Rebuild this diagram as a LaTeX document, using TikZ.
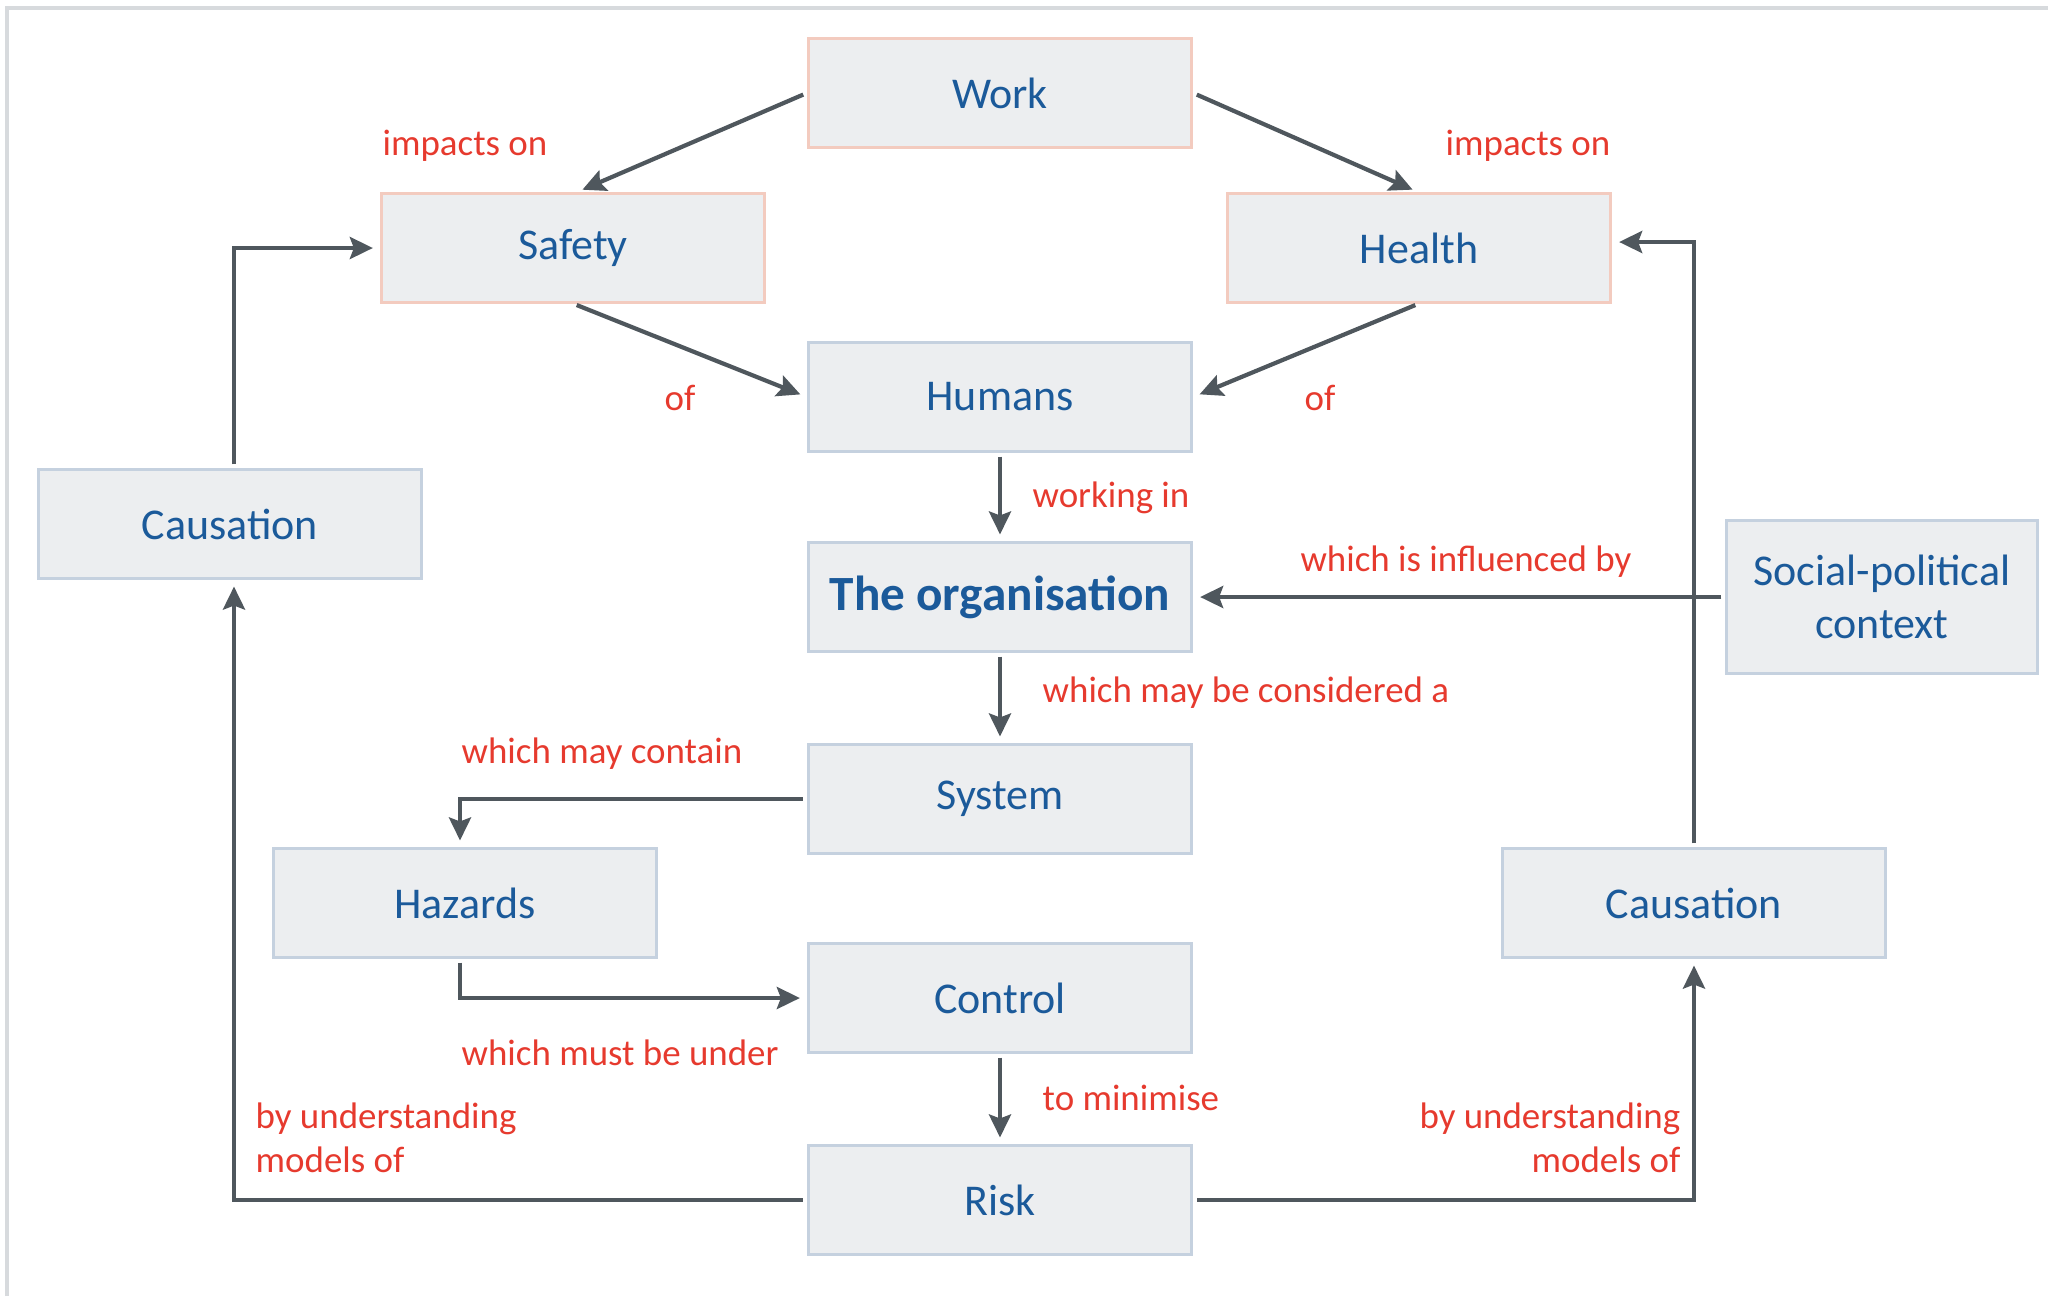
\documentclass[tikz,border=0pt]{standalone}
\usepackage{fontspec}
\setmainfont{Carlito}
\usetikzlibrary{arrows.meta}
\definecolor{boxfill}{HTML}{ECEEF0}
\definecolor{boxline}{HTML}{C5D1DF}
\definecolor{pinkline}{HTML}{F3CBBF}
\definecolor{boxtext}{HTML}{1B5A9A}
\definecolor{lbltext}{HTML}{E63A2E}
\definecolor{arrowgrey}{HTML}{4F575D}
\definecolor{framegrey}{HTML}{D7DADD}

\begin{document}
\begin{tikzpicture}[x=0.01cm,y=-0.01cm,
	box/.style={draw=boxline,line width=0.03cm,fill=boxfill,minimum width=3.83cm,minimum height=1.08cm,
		font=\fontsize{12.5}{15}\selectfont,text=boxtext},
	topbox/.style={box,draw=pinkline},
	lbl/.style={text=lbltext,font=\fontsize{10.5}{12.4}\selectfont,inner sep=0pt},
	arr/.style={draw=arrowgrey,line width=0.042cm,-{Stealth[length=0.23cm,width=0.22cm,inset=0.04cm]},
		shorten <=0.04cm,shorten >=0.07cm}]
			\useasboundingbox (0,0) rectangle (2048,1296);
			\draw[framegrey,line width=0.045cm] (7,1296) -- (7,8) -- (2048,8); % Frame
			\node[topbox] (work) at (1000,93) {Work}; % Box Work
			\node[topbox] (safety) at (573,248) {Safety}; % Box Safety
			\node[topbox] (health) at (1419,248) {Health}; % Box Health
			\node[box] (humans) at (1000,397) {Humans}; % Box Humans
			\node[box,font=\fontsize{14}{16}\selectfont\bfseries] (org) at (1000,597) {The organisation}; % Box Organisation
			\node[box] (causeL) at (230,524) {Causation}; % Left Causation
			\node[box,minimum width=3.1cm,minimum height=1.53cm,align=center] (social) at (1882,597) {Social-political\\context}; % Box Social
			\node[box] (system) at (1000,799) {System}; % Box System
			\node[box] (hazards) at (465,903) {Hazards}; % Box Hazards
			\node[box] (causeR) at (1694,903) {Causation}; % Right Causation
			\node[box] (control) at (1000,998) {Control}; % Box Control
			\node[box] (risk) at (1000,1200) {Risk}; % Box Risk
			\draw[arr] (work.west) -- ([xshift=0.03cm]safety.north); % Work to Safety
			\draw[arr] (work.east) -- (health.north); % Work to Health
			\draw[arr] (safety.south) -- (humans.west); % Safety to Humans
			\draw[arr] (health.south) -- (humans.east); % Health to Humans
			\draw[arr] (humans.south) -- (org.north); % Humans to Organisation
			\draw[arr] (social.west) -- (org.east); % Social to Organisation
			\draw[arr] (org.south) -- (system.north); % Organisation to System
			\draw[arr] (system.west) -| ([xshift=-0.05cm]hazards.north); % System to Hazards
			\draw[arr] ([xshift=-0.05cm]hazards.south) |- (control.west); % Hazards to Control
			\draw[arr] (control.south) -- (risk.north); % Control to Risk
			\draw[arr] (risk.west) -| ([xshift=0.04cm]causeL.south); % Risk to left Causation
			\draw[arr] ([xshift=0.04cm]causeL.north) |- (safety.west); % left Causation to Safety
			\draw[arr] (risk.east) -| (causeR.south); % Risk to right Causation
			\draw[arr] (causeR.north) |- ([yshift=0.06cm]health.east); % right Causation to Health
			\node[lbl] (l1) at (465,146) {impacts on}; % Label Work-Safety
			\node[lbl] (l2) at (1528,146) {impacts on}; % Label Work-Health
			\node[lbl] (l3) at (680,398) {of}; % Label Safety-Humans
			\node[lbl] (l4) at (1320,398) {of}; % Label Health-Humans
			\node[lbl,anchor=west] (l5) at (1032,498) {working in}; % Label Humans-Organisation
			\node[lbl] (l6) at (1466,562) {which is influenced by}; % Label Social
			\node[lbl,anchor=west] (l7) at (1042,693) {which may be considered a}; % Label Organisation-System
			\node[lbl,anchor=west] (l8) at (461,754) {which may contain}; % Label System-Hazards
			\node[lbl,anchor=west] (l9) at (461,1053) {which must be under}; % Label Hazards-Control
			\node[lbl,anchor=west] (l10) at (1042,1098) {to minimise}; % Label Control-Risk
			\node[lbl,anchor=west,align=left] (l11) at (255,1138) {by understanding\\models of}; % Label left
			\node[lbl,anchor=east,align=right] (l12) at (1681,1138) {by understanding\\models of}; % Label right
		\end{tikzpicture}
\end{document}
